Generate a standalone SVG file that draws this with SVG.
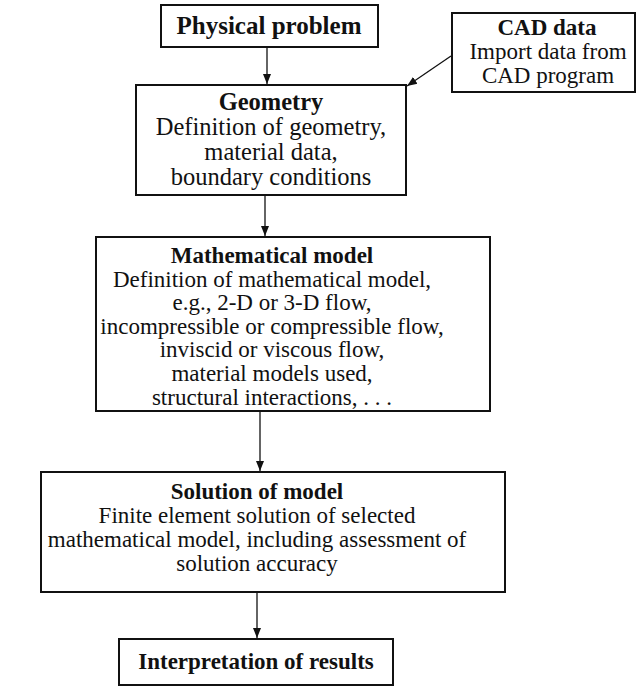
<svg xmlns="http://www.w3.org/2000/svg" width="637" height="687" viewBox="0 0 637 687">
<defs>
<style>
.box{fill:#fff;stroke:#111;stroke-width:2}
.t{font-family:"Liberation Serif","Times New Roman",serif;font-size:23px;fill:#111;text-anchor:middle}
.b{font-weight:bold}
.g{font-size:24.5px}
.p{font-size:25px}
.c{stroke:#111;stroke-width:1.3;fill:none;marker-end:url(#ah)}
</style>
<marker id="ah" viewBox="0 0 10 10" refX="10" refY="5" markerWidth="10" markerHeight="10" markerUnits="userSpaceOnUse" orient="auto">
<path d="M0,1 L10,5 L0,9 Z" fill="#111"/>
</marker>
</defs>
<rect width="637" height="687" fill="#fff"/>
<g id="connectors">
<line class="c" x1="267" y1="47" x2="267" y2="84"/>
<line class="c" x1="451" y1="56" x2="407" y2="86"/>
<line class="c" x1="265" y1="195" x2="265" y2="236"/>
<line class="c" x1="260" y1="411" x2="260" y2="471"/>
<line class="c" x1="257" y1="592" x2="257" y2="638"/>
</g>
<g id="physical">
<rect class="box" x="161" y="5" width="217" height="42"/>
<text class="t b p" x="269" y="34">Physical problem</text>
</g>
<g id="cad">
<rect class="box" x="452" y="13" width="183" height="79"/>
<text class="t b" x="547" y="35">CAD data</text>
<text class="t" x="548" y="59">Import data from</text>
<text class="t" x="548" y="83">CAD program</text>
</g>
<g id="geometry">
<rect class="box" x="136" y="85" width="270" height="110"/>
<text class="t b g" x="271" y="110">Geometry</text>
<text class="t g" x="271" y="135">Definition of geometry,</text>
<text class="t g" x="271" y="160">material data,</text>
<text class="t g" x="271" y="185">boundary conditions</text>
</g>
<g id="math">
<rect class="box" x="96" y="237" width="394" height="174"/>
<text class="t b" x="272" y="263">Mathematical model</text>
<text class="t" x="272" y="287">Definition of mathematical model,</text>
<text class="t" x="272" y="310">e.g., 2-D or 3-D flow,</text>
<text class="t" x="272" y="334">incompressible or compressible flow,</text>
<text class="t" x="272" y="357">inviscid or viscous flow,</text>
<text class="t" x="272" y="381">material models used,</text>
<text class="t" x="272" y="405">structural interactions, . . .</text>
</g>
<g id="solution">
<rect class="box" x="41" y="472" width="464" height="120"/>
<text class="t b" x="257" y="499">Solution of model</text>
<text class="t" x="257" y="523">Finite element solution of selected</text>
<text class="t" x="257" y="547">mathematical model, including assessment of</text>
<text class="t" x="257" y="571">solution accuracy</text>
</g>
<g id="interp">
<rect class="box" x="119" y="639" width="274" height="46"/>
<text class="t b" x="256" y="669">Interpretation of results</text>
</g>
</svg>
